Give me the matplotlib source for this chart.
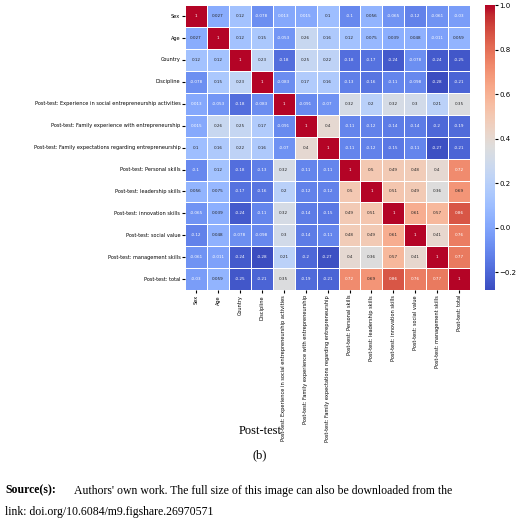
import numpy as np
import matplotlib
matplotlib.use("Agg")
from matplotlib import pyplot as plt
import seaborn as sns

labels = [
    "Sex", "Age", "Country", "Discipline",
    "Post-test: Experience in social entrepreneurship activities",
    "Post-test: Family experience with entrepreneurship",
    "Post-test: Family expectations regarding entrepreneurship",
    "Post-test: Personal skills", "Post-test: leadership skills",
    "Post-test: innovation skills", "Post-test: social value",
    "Post-test: management skills", "Post-test: total",
]
# upper triangle rows (values right of the diagonal)
upper = [
    [0.027, 0.12, -0.078, 0.013, 0.015, 0.1, -0.1, 0.056, -0.065, -0.12, -0.061, -0.03],
    [0.12, 0.15, -0.053, 0.26, 0.16, 0.12, 0.075, 0.039, 0.048, -0.011, 0.059],
    [0.23, -0.18, 0.25, 0.22, -0.18, -0.17, -0.24, -0.078, -0.24, -0.25],
    [-0.083, 0.17, 0.16, -0.13, -0.16, -0.11, -0.098, -0.28, -0.21],
    [-0.091, -0.07, 0.32, 0.2, 0.32, 0.3, 0.21, 0.35],
    [0.4, -0.11, -0.12, -0.14, -0.14, -0.2, -0.19],
    [-0.11, -0.12, -0.15, -0.11, -0.27, -0.21],
    [0.5, 0.49, 0.48, 0.4, 0.72],
    [0.51, 0.49, 0.36, 0.69],
    [0.61, 0.57, 0.86],
    [0.41, 0.76],
    [0.77],
]

n = len(labels)
corr = np.eye(n)
for i, row in enumerate(upper):
    for k, v in enumerate(row):
        corr[i, i + 1 + k] = v
        corr[i + 1 + k, i] = v

fig = plt.figure(figsize=(5.2, 5.19), dpi=100)
ax = fig.add_axes([0.356, 0.441, 0.548, 0.549])
cax = fig.add_axes([0.932, 0.441, 0.02, 0.549])
sns.heatmap(corr, ax=ax, cbar_ax=cax, cmap="coolwarm", annot=True, fmt=".2g",
            annot_kws={"fontsize": 3}, linewidths=0.5, linecolor="white",
            xticklabels=labels, yticklabels=labels)
ax.tick_params(labelsize=3.6, length=2, pad=1.5)
ax.set_xticklabels(labels, rotation=90)
ax.set_yticklabels(labels, rotation=0)
cax.tick_params(labelsize=5, length=2, pad=1)

serif = "Liberation Serif"
fig.text(0.5, 0.163, "Post-test", ha="center", fontsize=9, family=serif)
fig.text(0.5, 0.117, "(b)", ha="center", fontsize=9, family=serif)
fig.text(0.01, 0.049, "Source(s):", fontsize=8.5, family=serif, fontweight="bold")
fig.text(0.142, 0.049, "Authors' own work. The full size of this image can also be downloaded from the",
         fontsize=8.5, family=serif)
fig.text(0.01, 0.008, "link: doi.org/10.6084/m9.figshare.26970571", fontsize=8.5, family=serif)

fig.savefig("out.png", dpi=100)
